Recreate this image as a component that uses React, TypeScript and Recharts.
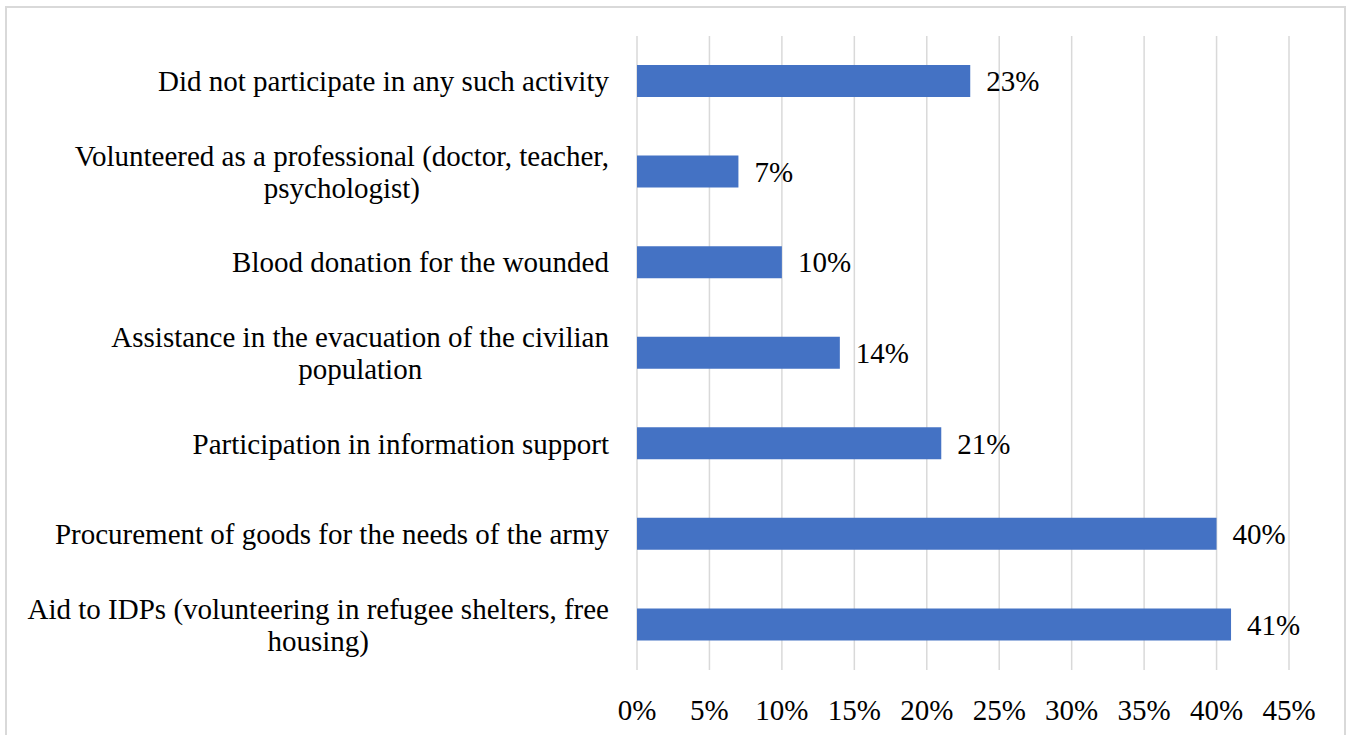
import React from "react";
import { BarChart, Bar, XAxis, YAxis, CartesianGrid, LabelList } from "recharts";

const categories: string[] = [
  "Did not participate in any such activity",
  "Volunteered as a professional (doctor, teacher, psychologist)",
  "Blood donation for the wounded",
  "Assistance in the evacuation of the civilian population",
  "Participation in information support",
  "Procurement of goods for the needs of the army",
  "Aid to IDPs (volunteering in refugee shelters, free housing)",
];
const values: number[] = [23, 7, 10, 14, 21, 40, 41];
const xTicks: number[] = [0, 5, 10, 15, 20, 25, 30, 35, 40, 45];

const data = categories.map((name, i) => ({ name, value: values[i] }));

const FONT = '"Liberation Serif", "Times New Roman", serif';
const FONT_SIZE = 29;
const LINE_H = 32;
const MAX_W = 600;

let ctx: CanvasRenderingContext2D | null = null;
function measure(t: string): number {
  if (!ctx) {
    const c = document.createElement("canvas");
    ctx = c.getContext("2d");
  }
  if (!ctx) return t.length * FONT_SIZE * 0.45;
  ctx.font = `${FONT_SIZE}px ${FONT}`;
  return ctx.measureText(t).width;
}

function wrap(text: string): string[] {
  const words = text.split(" ");
  const lines: string[] = [];
  let cur = "";
  for (const w of words) {
    const cand = cur ? cur + " " + w : w;
    if (measure(cand) <= MAX_W || !cur) cur = cand;
    else {
      lines.push(cur);
      cur = w;
    }
  }
  if (cur) lines.push(cur);
  return lines;
}

const YTick = (props: any) => {
  const { x, y, payload } = props;
  const lines = wrap(String(payload.value));
  const bw = Math.max(...lines.map(measure));
  const cx = x - bw / 2;
  const y0 = y - ((lines.length - 1) * LINE_H) / 2;
  return (
    <g>
      {lines.map((l, i) => (
        <text
          key={i}
          x={cx}
          y={y0 + i * LINE_H}
          textAnchor="middle"
          dominantBaseline="central"
          fontFamily={FONT}
          fontSize={FONT_SIZE}
          fill="#000"
        >
          {l}
        </text>
      ))}
    </g>
  );
};

const XTick = (props: any) => {
  const { x, y, payload } = props;
  return (
    <text
      x={x}
      y={y}
      textAnchor="middle"
      dominantBaseline="central"
      fontFamily={FONT}
      fontSize={FONT_SIZE}
      fill="#000"
    >
      {`${payload.value}%`}
    </text>
  );
};

export default function App() {
  return (
    <div
      style={{
        position: "absolute",
        left: 0,
        top: 0,
        width: 1352,
        height: 735,
        overflow: "hidden",
        background: "#fff",
      }}
    >
      <div
        style={{
          position: "absolute",
          left: 5,
          top: 6,
          width: 1341,
          height: 760,
          border: "2px solid #D9D9D9",
          boxSizing: "border-box",
        }}
      />
      <div style={{ position: "absolute", left: 0, top: 0 }}>
        <BarChart
          width={1352}
          height={735}
          data={data}
          layout="vertical"
          margin={{ top: 36, right: 63, bottom: 0, left: 0 }}
        >
          <CartesianGrid horizontal={false} stroke="#D9D9D9" strokeWidth={1.5} />
          <XAxis
            type="number"
            domain={[0, 45]}
            ticks={xTicks}
            axisLine={false}
            tickLine={false}
            tickSize={0}
            tickMargin={40}
            height={65}
            tick={<XTick />}
            interval={0}
          />
          <YAxis
            type="category"
            dataKey="name"
            width={637}
            axisLine={false}
            tickLine={false}
            tickSize={0}
            tickMargin={28}
            tick={<YTick />}
            interval={0}
          />
          <Bar dataKey="value" fill="#4472C4" barSize={32} isAnimationActive={false}>
            <LabelList
              dataKey="value"
              position="right"
              offset={16}
              formatter={(v: any) => `${v}%`}
              style={{ fontFamily: FONT, fontSize: FONT_SIZE, fill: "#000" }}
            />
          </Bar>
        </BarChart>
      </div>
    </div>
  );
}
